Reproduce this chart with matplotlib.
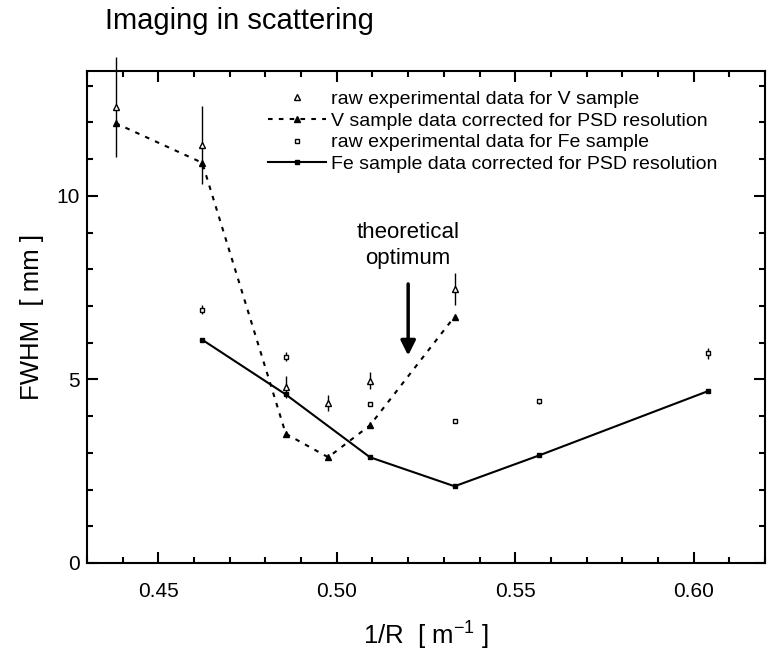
import numpy as np
import matplotlib
matplotlib.use("Agg")
import matplotlib.pyplot as plt
from matplotlib.ticker import MultipleLocator, FormatStrFormatter

plt.rcParams['font.family'] = ['Liberation Sans', 'DejaVu Sans']

# ------------------------------------------------------------
# data
# ------------------------------------------------------------
inv_r_v = [0.438, 0.4623, 0.4857, 0.4976, 0.5093, 0.533]
v_raw = [12.42, 11.39, 4.79, 4.35, 4.97, 7.47]
v_raw_err = [1.36, 1.06, 0.30, 0.22, 0.22, 0.43]
v_corr = [11.98, 10.90, 3.52, 2.88, 3.75, 6.71]

inv_r_fe = [0.4623, 0.4857, 0.5093, 0.533, 0.5567, 0.604]
fe_raw = [6.90, 5.62, 4.34, 3.86, 4.40, 5.71]
fe_raw_err = [0.13, 0.12, 0.05, 0.05, 0.07, 0.15]
fe_corr = [6.08, 4.59, 2.88, 2.09, 2.93, 4.68]

x_opt = 0.52

fig = plt.figure(figsize=(7.67, 6.56), dpi=100)
ax = fig.add_axes([87 / 767, 1 - 563 / 656, 678 / 767, 492 / 656])

# V sample
ax.errorbar(inv_r_v, v_raw, yerr=v_raw_err, fmt="none", ecolor="black",
            elinewidth=1.0, capsize=0, clip_on=False, zorder=2)
ax.plot(inv_r_v, v_raw, linestyle="none", marker="^", markersize=4.5,
        markerfacecolor="white", markeredgecolor="black", markeredgewidth=1.0,
        label="raw experimental data for V sample", zorder=4)
ax.plot(inv_r_v, v_corr, color="black", linestyle=(0, (2.2, 3)), linewidth=1.5,
        marker="^", markersize=4.5, markerfacecolor="black",
        markeredgecolor="black",
        label="V sample data corrected for PSD resolution", zorder=3)

# Fe sample
ax.errorbar(inv_r_fe, fe_raw, yerr=fe_raw_err, fmt="none", ecolor="black",
            elinewidth=1.0, capsize=0, zorder=2)
ax.plot(inv_r_fe, fe_raw, linestyle="none", marker="s", markersize=3.5,
        markerfacecolor="white", markeredgecolor="black", markeredgewidth=1.0,
        label="raw experimental data for Fe sample", zorder=4)
ax.plot(inv_r_fe, fe_corr, color="black", linestyle="-", linewidth=1.5,
        marker="s", markersize=3.5, markerfacecolor="black",
        markeredgecolor="black",
        label="Fe sample data corrected for PSD resolution", zorder=3)

# theoretical optimum
ax.annotate("", xy=(x_opt, 5.65), xytext=(x_opt, 7.6),
            arrowprops=dict(arrowstyle="-|>", color="black", lw=2.5,
                            mutation_scale=22, shrinkA=0, shrinkB=0))
ax.text(x_opt, 8.64, "theoretical\noptimum", ha="center", va="center",
        fontsize=16, linespacing=1.3)

ax.set_xlim(0.43, 0.62)
ax.set_ylim(0, 13.4)
ax.xaxis.set_major_locator(MultipleLocator(0.05))
ax.xaxis.set_minor_locator(MultipleLocator(0.01))
ax.xaxis.set_major_formatter(FormatStrFormatter("%.2f"))
ax.yaxis.set_major_locator(MultipleLocator(5))
ax.yaxis.set_minor_locator(MultipleLocator(1))

ax.tick_params(which="both", direction="in", top=True, right=True,
               width=1.5, labelsize=15)
ax.tick_params(which="major", length=8)
ax.tick_params(which="minor", length=4)
ax.tick_params(axis="x", which="major", pad=14)
ax.tick_params(axis="y", which="major", pad=5)
for sp in ax.spines.values():
    sp.set_linewidth(1.5)

ax.set_xlabel("1/R  [ m$^{\\mathregular{-1}}$ ]", fontsize=18.5, labelpad=12)
ax.set_ylabel("FWHM  [ mm ]", fontsize=18.5, labelpad=9)

fig.text(105 / 767, 1 - 21 / 656, "Imaging in scattering", fontsize=21,
         ha="left", va="center")

ax.legend(loc="upper left", bbox_to_anchor=(268 / 767, 1 - 90 / 656),
          bbox_transform=fig.transFigure, frameon=False, fontsize=14,
          handlelength=3.0, handletextpad=0.25, labelspacing=0.22,
          borderpad=0, borderaxespad=0)

plt.savefig("out.png", dpi=100)
